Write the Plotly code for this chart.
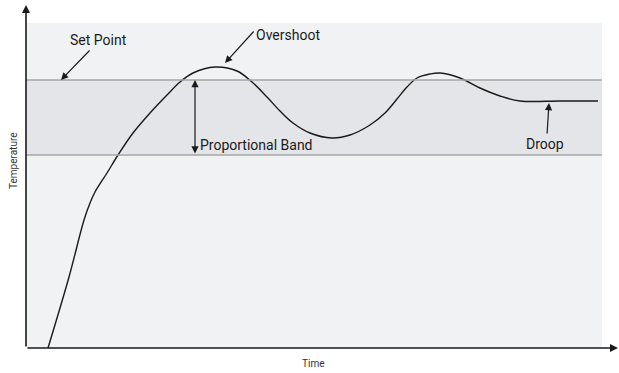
import plotly.graph_objects as go

# Curve: time vs temperature (arbitrary units, origin at axes corner)
time = [22, 43, 58, 64, 69, 81, 92, 107, 124, 141, 154, 167, 189, 211, 226, 241, 254, 267, 284,
        306, 324, 344, 359, 371, 381, 391, 404, 414, 434, 454, 474, 494, 534, 572]
temperature = [0, 71, 128, 145, 156, 175, 193, 215, 235, 253, 266, 275, 281, 277, 266, 251, 237, 225, 215,
               210, 213, 223, 235, 249, 261, 270, 274, 275, 270, 260, 252, 247, 247, 247]

set_point = 268
band_low = 193
bg_top = 325
bg_right = 576
x_max = 592
y_max = 343

FONT = "Liberation Sans Narrow, Roboto, Arial Narrow, sans-serif"

fig = go.Figure()

# background and band
fig.add_shape(type="rect", x0=0, x1=bg_right, y0=0, y1=bg_top, fillcolor="#f1f2f4", line_width=0, layer="below")
fig.add_shape(type="rect", x0=0, x1=bg_right, y0=band_low, y1=set_point, fillcolor="#e4e5e8", line_width=0, layer="below")
for yv in (set_point, band_low):
    fig.add_shape(type="line", x0=0, x1=bg_right, y0=yv, y1=yv, line=dict(color="#a6a6a6", width=1.5))

fig.add_trace(go.Scatter(x=time, y=temperature, mode="lines",
                         line=dict(color="#1a1a1a", width=1.4, shape="spline", smoothing=1.0),
                         hoverinfo="skip", showlegend=False))

def arrow(x, y, ax, ay, side="end", width=1.2, head=2, size=1.2):
    fig.add_annotation(x=x, y=y, ax=ax, ay=ay, xref="x", yref="y", axref="x", ayref="y",
                       showarrow=True, arrowhead=head, arrowsize=size, arrowwidth=width,
                       arrowcolor="#1a1a1a", arrowside=side, text="")

# axes
arrow(0, y_max, 0, 0, width=1.6, size=1.0)
arrow(x_max, 0, 0, 0, width=1.6, size=1.0)

# pointers
arrow(35, 268, 65, 299)
arrow(199, 285, 229, 318)
arrow(523, 245, 521, 213)
arrow(169, 268, 169, 193, side="end+start")

def label(x, y, text, anchor="center", size=14):
    fig.add_annotation(x=x, y=y, xref="x", yref="y", text=text, showarrow=False,
                       xanchor=anchor, yanchor="middle",
                       font=dict(family=FONT, size=size, color="#1a1a1a"))

label(72, 308, "Set Point")
label(228, 313, "Overshoot", anchor="left")
label(172, 203, "Proportional Band", anchor="left")
label(519, 204, "Droop")

fig.add_annotation(x=-13, y=187, xref="x", yref="y", text="Temperature", showarrow=False,
                   textangle=-90, font=dict(family=FONT, size=10, color="#333"))
fig.add_annotation(x=287, y=-15, xref="x", yref="y", text="Time", showarrow=False,
                   font=dict(family=FONT, size=10, color="#333"))

fig.update_layout(
    width=619, height=373, margin=dict(l=0, r=0, t=0, b=0),
    paper_bgcolor="white", plot_bgcolor="white",
    xaxis=dict(range=[-26, 593], visible=False, fixedrange=True),
    yaxis=dict(range=[-25, 348], visible=False, fixedrange=True),
)
fig.write_html("out.html", config={"displayModeBar": False},
               post_script="document.body.style.margin='0';document.body.style.overflow='hidden';")
